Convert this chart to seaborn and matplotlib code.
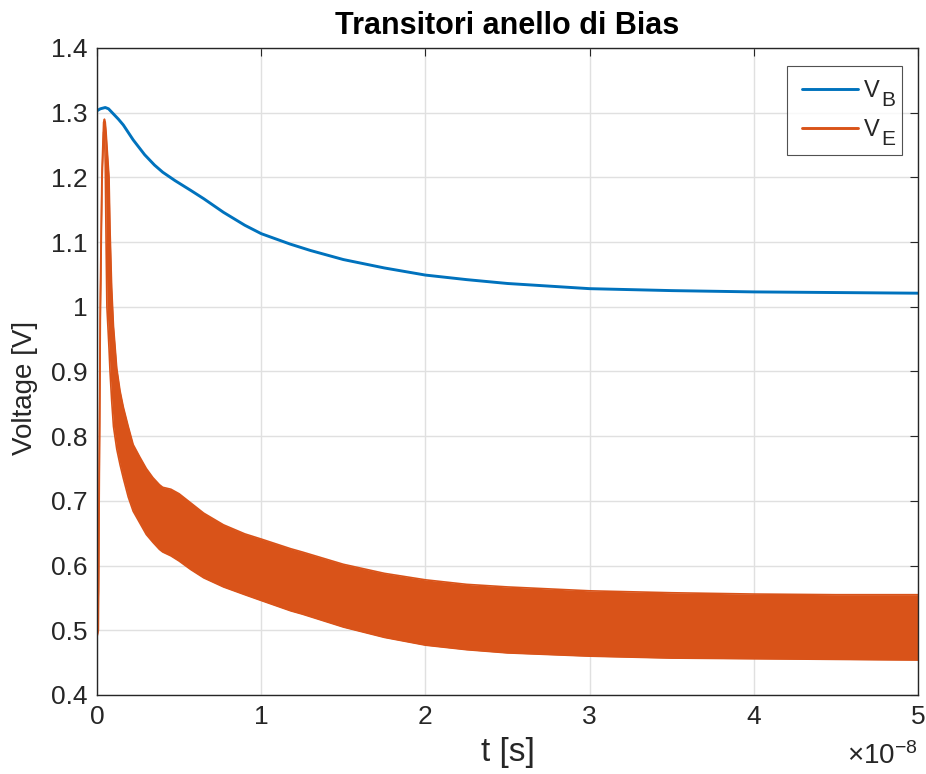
import numpy as np
import matplotlib
matplotlib.use("Agg")
import matplotlib.pyplot as plt
import seaborn as sns
from matplotlib.ticker import FixedLocator, FixedFormatter
from matplotlib.lines import Line2D

# ---- data (time in units of 1e-8 s, voltages in V) ----
TIME_EXPONENT = -8
TIME_UNIT = 10.0 ** TIME_EXPONENT

t_vb = np.array([0, 0.02, 0.05, 0.07, 0.1, 0.13, 0.16, 0.22, 0.29, 0.35, 0.4,
                 0.475, 0.57, 0.65, 0.77, 0.9, 1.0, 1.175, 1.3, 1.5, 1.75,
                 2.0, 2.25, 2.5, 2.75, 3.0, 3.5, 4.0, 4.5, 5.0])
v_b = np.array([1.303, 1.306, 1.308, 1.306, 1.298, 1.290, 1.281, 1.258, 1.235,
                1.219, 1.208, 1.195, 1.180, 1.167, 1.146, 1.126, 1.113, 1.097,
                1.087, 1.073, 1.060, 1.049, 1.042, 1.036, 1.032, 1.028, 1.025,
                1.023, 1.022, 1.021])

# V_E oscillates very fast: stored as its upper / lower envelope
t_ve = np.array([0, 0.008, 0.015, 0.02, 0.03, 0.04, 0.045, 0.05, 0.055, 0.06,
                 0.073, 0.079, 0.089, 0.1, 0.12, 0.14, 0.16, 0.19, 0.22, 0.26,
                 0.30, 0.34, 0.38, 0.40, 0.45, 0.50, 0.57, 0.65, 0.77, 0.9,
                 1.0, 1.18, 1.25, 1.5, 1.75, 2.0, 2.25, 2.5, 3.0, 3.5, 4.0,
                 4.5, 5.0])
v_e_upper = np.array([0.50, 0.56, 0.82, 1.02, 1.21, 1.285, 1.29, 1.285, 1.27,
                      1.25, 1.20, 1.12, 1.03, 0.97, 0.905, 0.87, 0.845, 0.815,
                      0.787, 0.768, 0.750, 0.736, 0.725, 0.721, 0.718, 0.711,
                      0.697, 0.681, 0.663, 0.649, 0.641, 0.626, 0.621, 0.602,
                      0.588, 0.578, 0.571, 0.567, 0.561, 0.558, 0.556, 0.555,
                      0.555])
v_e_lower = np.array([0.49, 0.50, 0.78, 0.98, 1.19, 1.27, 1.27, 1.22, 1.10,
                      1.00, 0.935, 0.90, 0.855, 0.815, 0.78, 0.756, 0.735,
                      0.706, 0.684, 0.666, 0.648, 0.636, 0.625, 0.621, 0.615,
                      0.607, 0.594, 0.581, 0.567, 0.555, 0.546, 0.530, 0.525,
                      0.505, 0.489, 0.477, 0.470, 0.465, 0.460, 0.457, 0.456,
                      0.455, 0.454])

x_ticks = [0, 1, 2, 3, 4, 5]
x_tick_labels = ["0", "1", "2", "3", "4", "5"]
y_ticks = [0.4, 0.5, 0.6, 0.7, 0.8, 0.9, 1.0, 1.1, 1.2, 1.3, 1.4]
y_tick_labels = ["0.4", "0.5", "0.6", "0.7", "0.8", "0.9", "1", "1.1", "1.2",
                 "1.3", "1.4"]
series_names = ["V", "V"]
series_subscripts = ["B", "E"]

# ---- style ----
sns.set_style("white")
plt.rcParams["font.family"] = ["Liberation Sans", "DejaVu Sans"]
plt.rcParams["mathtext.fontset"] = "custom"
plt.rcParams["mathtext.rm"] = "Liberation Sans"

BLUE = (0.0, 0.447, 0.741)
ORANGE = (0.850, 0.325, 0.098)
DARK = "#262626"

fig, ax = plt.subplots(figsize=(9.26, 7.74), dpi=100)
fig.subplots_adjust(left=0.1048, right=0.9914, bottom=0.1021, top=0.938)

sns.lineplot(x=t_vb * TIME_UNIT, y=v_b, color=BLUE, lw=2.1, ax=ax)

ax.fill_between(t_ve * TIME_UNIT, v_e_lower, v_e_upper, color=ORANGE, lw=0)
sns.lineplot(x=t_ve * TIME_UNIT, y=v_e_upper, color=ORANGE, lw=1.2, ax=ax)
sns.lineplot(x=t_ve * TIME_UNIT, y=v_e_lower, color=ORANGE, lw=1.2, ax=ax)

ax.set_xlim(0, 5 * TIME_UNIT)
ax.set_ylim(0.4, 1.4)
ax.xaxis.set_major_locator(FixedLocator([v * TIME_UNIT for v in x_ticks]))
ax.xaxis.set_major_formatter(FixedFormatter(x_tick_labels))
ax.set_yticks(y_ticks)
ax.set_yticklabels(y_tick_labels)

ax.grid(True, color="#e0e0e0", lw=1.0)
ax.set_axisbelow(True)
for sp in ax.spines.values():
    sp.set_color(DARK)
    sp.set_linewidth(1.0)
    sp.set_visible(True)
ax.tick_params(direction="in", length=6, width=0.8, top=True, right=True,
               colors=DARK, labelsize=19, pad=7)

# exponent of the time axis, below the right end of the axis
ax.text(1.0, -0.107, r"$\times\mathregular{10^{%d}}$" % TIME_EXPONENT,
        transform=ax.transAxes, ha="right", va="baseline", fontsize=20,
        color=DARK)

ax.set_title("Transitori anello di Bias", fontsize=22, fontweight="bold",
             color="black", pad=10)
ax.set_xlabel("t [s]", fontsize=24, color=DARK, labelpad=6)
ax.set_ylabel("Voltage [V]", fontsize=20, color=DARK)
ax.yaxis.set_label_coords(-0.072, 0.475)

# legend: blank label slots sized for "V" + a large subscript, the names
# themselves are written into those slots
handles = [Line2D([], [], color=BLUE, lw=2.1),
           Line2D([], [], color=ORANGE, lw=2.1)]
leg = ax.legend(handles, ["\u2002\u2002"] * len(handles),
                loc="upper right", bbox_to_anchor=(0.9805, 0.9722),
                fontsize=17, frameon=True, fancybox=False, handlelength=2.4,
                handletextpad=0.25, borderpad=0.6, labelspacing=0.72,
                borderaxespad=0.0)
leg.get_frame().set_edgecolor(DARK)
leg.get_frame().set_linewidth(0.8)
for slot, name, sub in zip(leg.get_texts(), series_names, series_subscripts):
    ax.annotate(name, xy=(0, 0), xycoords=slot, xytext=(0, 3.6),
                textcoords="offset points", ha="left", va="baseline",
                fontsize=17, color=DARK, annotation_clip=False, zorder=10)
    ax.annotate(sub, xy=(0, 0), xycoords=slot, xytext=(12.0, -2.5),
                textcoords="offset points", ha="left", va="baseline",
                fontsize=15, color=DARK, annotation_clip=False, zorder=10)

fig.savefig("out.png", dpi=100)
